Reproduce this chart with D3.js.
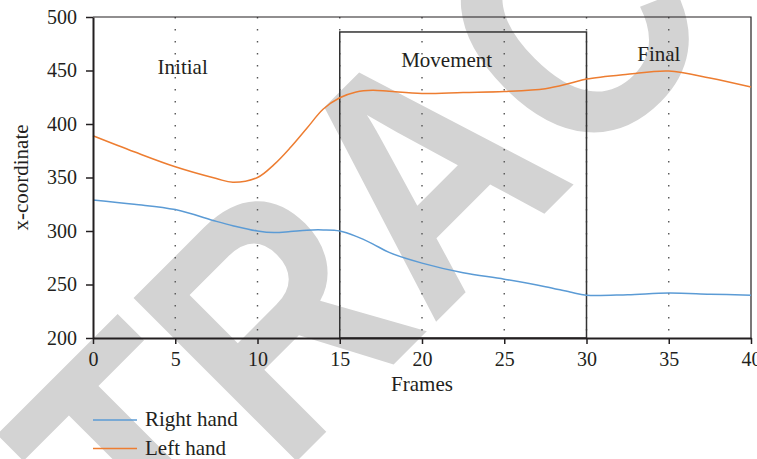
<!DOCTYPE html>
<html>
<head>
<meta charset="utf-8">
<script src="https://cdn.jsdelivr.net/npm/d3@7"></script>
<style>
  body { margin: 0; background: #fff; }
  svg { display: block; }
  .lbl { font-family: "Liberation Serif", "Times New Roman", serif; fill: #231f20; }
</style>
</head>
<body>
<svg id="chart" width="757" height="459"></svg>
<script>
// ---------------------------------
// data
// ---------------------------------
const frames = [0, 2.5, 5, 7.5, 8.5, 10, 11, 12, 13, 14, 15, 16, 17, 18, 20, 22.5, 25, 27.5, 29, 30, 32.5, 35, 37.5, 40];
const rightHand = [329, 325, 320, 309, 305, 300, 298.5, 299.5, 300.8, 301, 300, 295, 288, 280, 270, 261, 255, 248, 243, 240, 240.5, 242, 241, 240];
const leftHand = [389, 374, 360, 349, 345.5, 350, 362, 378, 396, 414, 424.5, 430, 431.5, 430.5, 428.5, 429.5, 430.4, 433, 438, 442, 446.5, 449.5, 443, 434.5];

const xTicks = [0, 5, 10, 15, 20, 25, 30, 35, 40];
const yTicks = [200, 250, 300, 350, 400, 450, 500];
const guideFrames = [5, 10, 15, 20, 25, 30, 35]; // dotted lines

const phaseNames = ["Initial", "Movement", "Final"];
const phaseAt = [[5.45, 447], [21.5, 453], [34.4, 458.5]]; // [frame, value]
const movementBox = [15, 30, 486]; // from, to, top value

const seriesNames = ["Right hand", "Left hand"];
const seriesColors = ["#5b9bd5", "#ed7d31"];

// ---------------------------------
const svg = d3.select("#chart");
const margin = { top: 17, right: 6, bottom: 121, left: 93 };
const width = +svg.attr("width") - margin.left - margin.right;
const height = +svg.attr("height") - margin.top - margin.bottom;

// watermark behind the chart
svg.append("text")
  .attr("transform", "translate(505,253) rotate(-45) scale(0.95,1.1)")
  .attr("text-anchor", "middle")
  .style("font-family", "'Liberation Sans', Arial, sans-serif")
  .style("font-weight", "bold")
  .style("font-size", "305px")
  .style("fill", "#d3d3d3")
  .text("RETRACTED");

const x = d3.scaleLinear().domain([0, 40]).range([0, width]);
const y = d3.scaleLinear().domain([200, 500]).range([height, 0]);

const g = svg.append("g")
  .attr("transform", "translate(" + margin.left + "," + margin.top + ")");

// dotted guides
g.selectAll(".guide")
  .data(guideFrames)
  .enter()
  .append("line")
  .attr("x1", d => x(d))
  .attr("x2", d => x(d))
  .attr("y1", 0)
  .attr("y2", height)
  .attr("stroke", "#555")
  .attr("stroke-width", 1.4)
  .attr("stroke-dasharray", "1.4 10.6");

// movement box
g.append("rect")
  .attr("x", x(movementBox[0]))
  .attr("y", y(movementBox[2]))
  .attr("width", x(movementBox[1]) - x(movementBox[0]))
  .attr("height", height - y(movementBox[2]))
  .attr("fill", "none")
  .attr("stroke", "#333")
  .attr("stroke-width", 1.5);

// top and right frame
g.append("path")
  .attr("d", "M0,0H" + width + "V" + height)
  .attr("fill", "none")
  .attr("stroke", "#231f20")
  .attr("stroke-width", 1.2);

// lines
const line = d3.line()
  .x(d => x(d[0]))
  .y(d => y(d[1]))
  .curve(d3.curveCatmullRom.alpha(0.5));

[rightHand, leftHand].forEach((vals, i) => {
  g.append("path")
    .datum(frames.map((f, j) => [f, vals[j]]))
    .attr("d", line)
    .attr("fill", "none")
    .attr("stroke", seriesColors[i])
    .attr("stroke-width", 1.5);
});

// axes
const xAxis = g.append("g")
  .attr("transform", "translate(0," + height + ")")
  .call(d3.axisBottom(x).tickValues(xTicks).tickSize(6).tickPadding(8).tickSizeOuter(0));
const yAxis = g.append("g")
  .call(d3.axisLeft(y).tickValues(yTicks).tickSize(7).tickPadding(9).tickSizeOuter(0));

[xAxis, yAxis].forEach(ax => {
  ax.select(".domain").attr("stroke", "#231f20").attr("stroke-width", 2);
  ax.selectAll(".tick line").attr("stroke", "#231f20").attr("stroke-width", 1.5);
  ax.selectAll(".tick text")
    .attr("class", "lbl")
    .style("font-size", "20px");
});

// phase labels
g.selectAll(".phase")
  .data(phaseNames)
  .enter()
  .append("text")
  .attr("class", "lbl")
  .attr("x", (d, i) => x(phaseAt[i][0]))
  .attr("y", (d, i) => y(phaseAt[i][1]))
  .attr("text-anchor", "middle")
  .style("font-size", "21px")
  .text(d => d);

// axis titles
svg.append("text")
  .attr("class", "lbl")
  .attr("x", margin.left + width / 2)
  .attr("y", 391)
  .attr("text-anchor", "middle")
  .style("font-size", "21px")
  .text("Frames");

svg.append("text")
  .attr("class", "lbl")
  .attr("text-anchor", "middle")
  .attr("transform", "translate(28," + (margin.top + height / 2) + ") rotate(-90)")
  .style("font-size", "21px")
  .text("x-coordinate");

// legend
const legend = svg.append("g").attr("transform", "translate(93,420)");
seriesNames.forEach((name, i) => {
  const row = legend.append("g").attr("transform", "translate(0," + i * 28.5 + ")");
  row.append("line")
    .attr("x1", 0).attr("x2", 44)
    .attr("stroke", seriesColors[i])
    .attr("stroke-width", 1.5);
  row.append("text")
    .attr("class", "lbl")
    .attr("x", 52)
    .attr("y", 6)
    .style("font-size", "21px")
    .text(name);
});
</script>
</body>
</html>
